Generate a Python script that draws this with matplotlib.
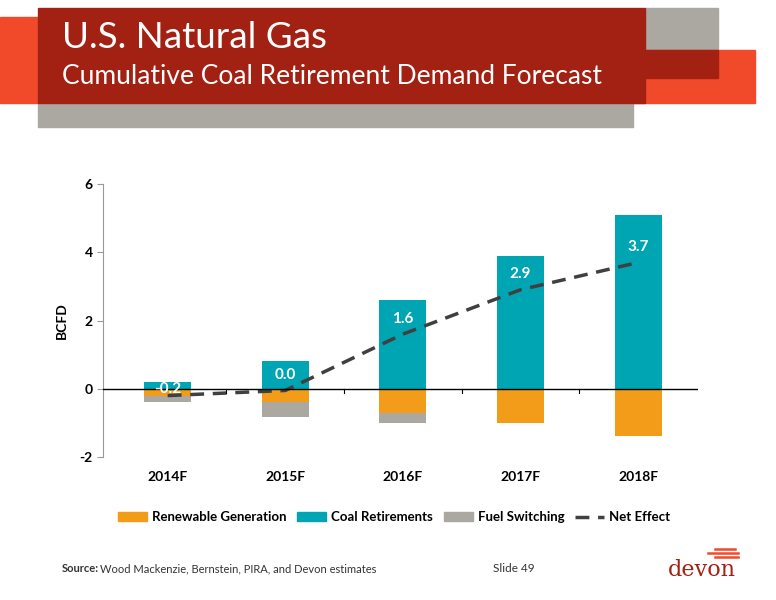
import matplotlib
matplotlib.use("Agg")
import matplotlib.pyplot as plt
from matplotlib.patches import Rectangle
from matplotlib.lines import Line2D

years = ["2014F", "2015F", "2016F", "2017F", "2018F"]
coal = [0.2, 0.8, 2.6, 3.9, 5.1]
renew = [-0.2, -0.4, -0.7, -1.0, -1.38]
fuel = [-0.2, -0.42, -0.3, 0.0, 0.0]
net = [-0.2, -0.05, 1.6, 2.9, 3.7]
net_labels = ["-0.2", "0.0", "1.6", "2.9", "3.7"]

FONT = "Lato"
plt.rcParams['font.family'] = [FONT, 'DejaVu Sans']
W, H = 776, 600
fig = plt.figure(figsize=(W/100, H/100), dpi=100)

def rect(x0, y0, x1, y1, c):
    fig.patches.append(Rectangle((x0/W, 1-y1/H), (x1-x0)/W, (y1-y0)/H, color=c,
                                 transform=fig.transFigure, zorder=0))
red, dark, grey = "#f04a2a", "#a32112", "#aba8a2"
rect(38, 103, 633, 127, grey)
rect(645, 8, 718, 50, grey)
rect(633, 50, 755, 103, red)
rect(0, 17, 38, 103, red)
rect(38, 8, 645, 103, dark)
rect(633, 50, 718, 78, dark)
fig.text(62/W, 1-38/H, "U.S. Natural Gas", color="white", fontsize=26.5, va="center")
fig.text(62/W, 1-76/H, "Cumulative Coal Retirement Demand Forecast", color="white", fontsize=19, va="center")

ax = fig.add_axes([103/W, 1-457/H, 595/W, 273/H])
x = list(range(len(years)))
bw = 0.4
c_or, c_te, c_gr = "#f39c1a", "#00a5b3", "#aba8a2"
ax.bar(x, coal, bw, color=c_te, zorder=2)
ax.bar(x, renew, bw, color=c_or, zorder=2)
ax.bar(x, fuel, bw, bottom=renew, color=c_gr, zorder=2)
ax.plot(x, net, ls=(0, (4, 2.5)), color="#404040", lw=2.5, zorder=3)
for xi, v, l in zip(x, net, net_labels):
    ax.text(xi, v + 0.45 if xi > 0 else 0.0, l, color="white", fontsize=11, fontweight="bold",
            ha="center", va="center", zorder=4)
ax.set_xlim(-0.55, 4.51)
ax.set_ylim(-2, 6)
ax.set_yticks([-2, 0, 2, 4, 6])
ax.set_yticklabels(["-2", "0", "2", "4", "6"], fontweight="bold", fontsize=10)
ax.set_xticks(x)
ax.set_xticklabels(years, fontweight="bold", fontsize=10)
ax.tick_params(axis="x", length=0, pad=10)
ax.tick_params(axis="y", length=4, color="#999999")
for s in ["top", "right", "bottom"]:
    ax.spines[s].set_visible(False)
ax.spines["left"].set_color("#999999")
ax.axhline(0, color="black", lw=1, zorder=3)
for b in [0.5, 1.5, 2.5, 3.5]:
    ax.plot([b, b], [0, -0.12], color="black", lw=0.8, clip_on=False, zorder=3)
ax.set_ylabel("BCFD", fontweight="bold", fontsize=10, labelpad=8)

handles = [Rectangle((0, 0), 1, 1, color=c_or), Rectangle((0, 0), 1, 1, color=c_te),
           Rectangle((0, 0), 1, 1, color=c_gr), Line2D([], [], color="#404040", ls=(0, (4, 2.5)), lw=2.5)]
fig.legend(handles, ["Renewable Generation", "Coal Retirements", "Fuel Switching", "Net Effect"],
           loc="center", bbox_to_anchor=(394/W, 1-517/H), ncol=4, frameon=False,
           prop={"weight": "bold", "size": 9.5}, handlelength=2.2, handleheight=0.6, columnspacing=0.8, handletextpad=0.4)

fig.text(62/W, 1-569/H, "Source:", fontsize=8, fontweight="bold", va="center", color="#333333")
fig.text(100/W, 1-569/H, "Wood Mackenzie, Bernstein, PIRA, and Devon estimates", fontsize=8, va="center", color="#333333")
fig.text(493/W, 1-569/H, "Slide 49", fontsize=8.5, va="center", color="#333333")
fig.text(702/W, 1-570/H, "devon", fontsize=16, ha="center", va="center", color="#a32112", family="DejaVu Serif")
for i, (x0, x1) in enumerate([(715, 735), (708, 738), (715, 738)]):
    y = 549 + i * 4
    fig.lines.append(Line2D([x0/W, x1/W], [1-y/H, 1-y/H], color=red, lw=1.8, transform=fig.transFigure))

fig.savefig("out.png", dpi=100)
